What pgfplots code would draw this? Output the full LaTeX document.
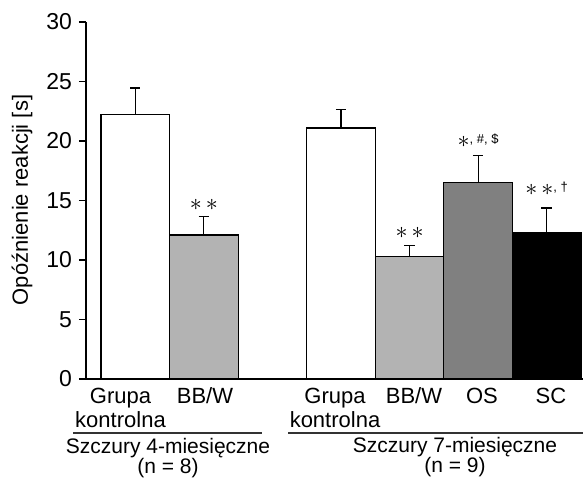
\documentclass[border=0pt]{standalone}
\usepackage{fontspec}
\setmainfont{Liberation Sans}
\usepackage{pgfplots}
\pgfplotsset{compat=1.18}
\definecolor{lgray}{HTML}{B3B3B3}
\definecolor{dgray}{HTML}{808080}
\begin{document}
\begin{tikzpicture}[font=\fontsize{11}{12}\selectfont]
\useasboundingbox (0,0) rectangle (291.5pt,240pt);
\begin{axis}[
  at={(43pt,50.5pt)}, anchor=south west,
  width=248.5pt, height=178.5pt, scale only axis,
  xmin=-0.719, xmax=6.53, ymin=0, ymax=30,
  axis x line=bottom, axis y line=left,
  axis line style={-, line width=0.6pt},
  xtick=\empty, ytick={0,5,...,30},
  tick align=outside, major tick length=3.5pt,
  y tick style={line width=0.6pt, black},
  yticklabel style={font=\fontsize{11.5}{12}\selectfont},
  /pgf/number format/assume math mode=true,
  ybar, bar width=1, bar shift=0pt,
  clip=false,
  error bars/y dir=plus, error bars/y explicit,
  error bars/error mark options={rotate=90, mark size=2.6pt, line width=0.6pt, black},
  error bars/error bar style={line width=0.6pt, black},
]
% 4-month-old rats
\addplot[bar shift=0pt, fill=white, draw=black, line width=0.6pt] coordinates {(0,22.25) +- (0,2.2)};
\addplot[bar shift=0pt, fill=lgray, draw=black, line width=0.6pt] coordinates {(1,12.1) +- (0,1.55)};
% 7-month-old rats
\addplot[bar shift=0pt, fill=white, draw=black, line width=0.6pt] coordinates {(3,21.1) +- (0,1.55)};
\addplot[bar shift=0pt, fill=lgray, draw=black, line width=0.6pt] coordinates {(4,10.3) +- (0,0.95)};
\addplot[bar shift=0pt, fill=dgray, draw=black, line width=0.6pt] coordinates {(5,16.5) +- (0,2.25)};
\addplot[bar shift=0pt, fill=black, draw=black, line width=0.6pt] coordinates {(6,12.27) +- (0,2.1)};
% significance marks
\node[font=\fontsize{13}{14}\selectfont] at (axis cs:1,14.6) {$\ast\,\ast$};
\node[font=\fontsize{13}{14}\selectfont] at (axis cs:4,12.3) {$\ast\,\ast$};
\node[font=\fontsize{13}{14}\selectfont] at (axis cs:5,20.0) {$\ast$\raisebox{2pt}{\fontsize{6.5}{7}\selectfont, \#, \$}};
\node[font=\fontsize{13}{14}\selectfont] at (axis cs:6.0,16.0) {$\ast\,\ast$\raisebox{2pt}{\fontsize{6.5}{7}\selectfont, †}};
\end{axis}
% y label
\node[rotate=90] at (11pt,140pt) {Opóźnienie reakcji [s]};
% category labels
\node[align=center] at (60.25pt,36pt) {Grupa\\kontrolna};
\node at (102.5pt,42pt) {BB/W};
\node[align=center] at (167.5pt,36pt) {Grupa\\kontrolna};
\node at (207pt,42pt) {BB/W};
\node at (241pt,42pt) {OS};
\node at (275.5pt,42pt) {SC};
% group brackets
\draw[line width=0.6pt, black!80] (36.5pt,23.5pt) -- (131pt,23.5pt);
\draw[line width=0.6pt, black!80] (144pt,23.5pt) -- (291.5pt,23.5pt);
\node[align=center, font=\fontsize{10.5}{12}\selectfont] at (84pt,11pt) {Szczury 4-miesięczne\\[-2pt](n = 8)};
\node[align=center, font=\fontsize{10.5}{12}\selectfont] at (227.5pt,11.5pt) {Szczury 7-miesięczne\\[-2pt](n = 9)};
\end{tikzpicture}
\end{document}
